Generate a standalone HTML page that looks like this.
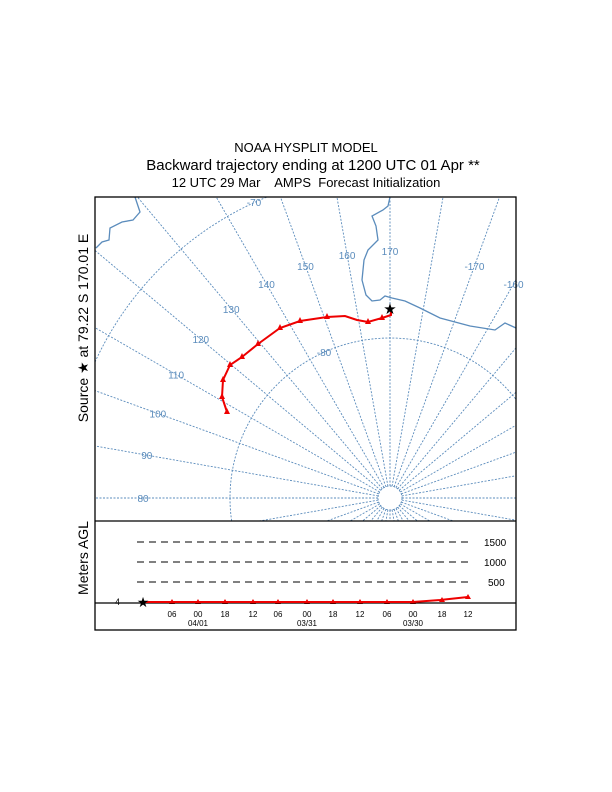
<!DOCTYPE html>
<html><head><meta charset="utf-8"><style>html,body{margin:0;padding:0;background:#fff;width:612px;height:792px;overflow:hidden}svg{display:block;font-family:"Liberation Sans",sans-serif}</style></head>
<body>
<svg id="s" width="612" height="792" viewBox="0 0 612 792" xmlns="http://www.w3.org/2000/svg">
<defs><clipPath id="c"><rect x="95" y="197" width="421" height="324"/></clipPath></defs>
<text x="306" y="152" font-size="13" text-anchor="middle">NOAA HYSPLIT MODEL</text>
<text x="313" y="170" font-size="15" text-anchor="middle">Backward trajectory ending at 1200 UTC 01 Apr **</text>
<text x="306" y="187" font-size="13" text-anchor="middle" xml:space="preserve">12 UTC 29 Mar    AMPS  Forecast Initialization</text>
<text transform="translate(88,328) rotate(-90)" font-size="14" text-anchor="middle">Source ★ at  79.22 S  170.01 E</text>
<text transform="translate(88,558) rotate(-90)" font-size="14" text-anchor="middle">Meters AGL</text>
<g id="map" clip-path="url(#c)" stroke="#5b8cbc" fill="none" stroke-width="0.9" stroke-dasharray="2,1.5">
<circle cx="390" cy="498" r="160"/><circle cx="390" cy="498" r="12"/>
<path d="M95,362 A325,325 0 0 1 267,197"/>
</g>
<g clip-path="url(#c)" stroke="#5b8cbc" fill="none" stroke-width="1.3">
<path d="M390,197 L388,206 383,210 372,216 376,226 378,240 368,250 364,260 362,280 366,295 372,301 380,300 385,296 392,298 405,301 420,308 440,318 470,326 495,330 505,323 516,328"/>
<path d="M135,197 L140,212 133,220 122,222 110,228 109,240 102,242 96,248"/>
</g>
<g id="lab" fill="#5b8cbc" font-size="10"></g>
<g fill="none" stroke="#e00" stroke-width="2">
<polyline points="391,308 391,315 382,318 368,322 357,320 345,316 327,317 300,321 280,328 258,344 242,357 230,365 223,380 222,397 227,412"/>
</g>
<g id="tri" fill="#e00"></g>
<text x="390" y="314" font-size="15" text-anchor="middle">★</text>
<rect x="95" y="197" width="421" height="433" fill="none" stroke="#000" stroke-width="1.3"/>
<line x1="95" y1="521" x2="516" y2="521" stroke="#000" stroke-width="1.3"/>
<line x1="95" y1="603" x2="516" y2="603" stroke="#000" stroke-width="1.3"/>
<g stroke="#000" stroke-dasharray="7,5" stroke-width="1"><line x1="137" y1="542" x2="472" y2="542"/><line x1="137" y1="562" x2="472" y2="562"/><line x1="137" y1="582" x2="472" y2="582"/></g>
<g font-size="10"><text x="484" y="546">1500</text><text x="484" y="566">1000</text><text x="488" y="586">500</text><text x="115" y="605" font-size="9">4</text></g>
<polyline points="143,602 300,602 413,602 440,600 468,597" fill="none" stroke="#e00" stroke-width="2"/>
<text x="143" y="607" font-size="14" text-anchor="middle">★</text>
<g id="tk" font-size="8" text-anchor="middle"></g>
<g font-size="8" text-anchor="middle"><text x="198" y="626">04/01</text><text x="307" y="626">03/31</text><text x="413" y="626">03/30</text></g>
</svg>
<script>
var ns="http://www.w3.org/2000/svg",m=document.getElementById('map'),lb=document.getElementById('lab');
for(var l=0;l<360;l+=10){var a=(l-170)*Math.PI/180,dx=Math.sin(a),dy=-Math.cos(a);
var T=1e9;if(dx>1e-6)T=Math.min(T,(516-390)/dx);if(dx<-1e-6)T=Math.min(T,(95-390)/dx);if(dy>1e-6)T=Math.min(T,(521-498)/dy);if(dy<-1e-6)T=Math.min(T,(197-498)/dy);
if(T>12){var p=document.createElementNS(ns,'line');p.setAttribute('x1',390+12*dx);p.setAttribute('y1',498+12*dy);p.setAttribute('x2',390+T*dx);p.setAttribute('y2',498+T*dy);m.appendChild(p);}
var x=390+247*dx,y=498+247*dy;if(l!=180&&x>100&&x<520&&y>200&&y<515){var t=document.createElementNS(ns,'text');t.setAttribute('x',x);t.setAttribute('y',y+4);t.setAttribute('text-anchor','middle');t.textContent=l>180?(l-360):l;lb.appendChild(t);}}
var t=document.createElementNS(ns,'text');t.setAttribute('x',254);t.setAttribute('y',206);t.setAttribute('text-anchor','middle');t.textContent='-70';lb.appendChild(t);
t=document.createElementNS(ns,'text');t.setAttribute('x',324);t.setAttribute('y',356);t.setAttribute('text-anchor','middle');t.textContent='-80';lb.appendChild(t);
var tr=document.getElementById('tri'),pts=[[382,318],[368,322],[327,317],[300,321],[280,328],[258,344],[242,357],[230,365],[223,380],[222,397],[227,412]];
pts.forEach(function(q){var p=document.createElementNS(ns,'polygon');p.setAttribute('points',(q[0]-3)+','+(q[1]+2)+' '+(q[0]+3)+','+(q[1]+2)+' '+q[0]+','+(q[1]-4));tr.appendChild(p);});
var xs=[172,198,225,253,278,307,333,360,387,413,442,468],ls=['06','00','18','12','06','00','18','12','06','00','18','12'],tk=document.getElementById('tk');
xs.forEach(function(x,i){var t=document.createElementNS(ns,'text');t.setAttribute('x',x);t.setAttribute('y',617);t.textContent=ls[i];tk.appendChild(t);
var p=document.createElementNS(ns,'polygon');var y=i>9?(i==11?597:600):602;p.setAttribute('points',(x-3)+','+(y+2)+' '+(x+3)+','+(y+2)+' '+x+','+(y-3));p.setAttribute('fill','#e00');tr.appendChild(p);});
</script>
</body></html>
